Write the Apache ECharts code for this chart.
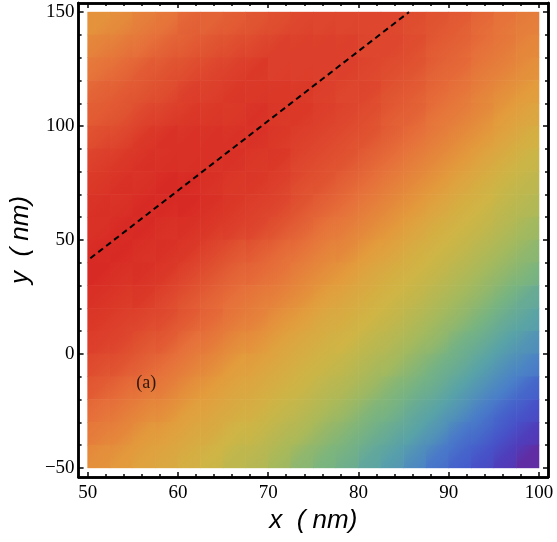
<!DOCTYPE html>
<html>
<head>
<meta charset="utf-8">
<script src="https://cdn.jsdelivr.net/npm/echarts@6/dist/echarts.min.js"></script>
<style>
html,body{margin:0;padding:0;background:#fff;}
#main{width:557px;height:542px;}
</style>
</head>
<body>
<div id="main"></div>
<script>
// cell centres (nm)
const xCells = [51.25,53.75,56.25,58.75,61.25,63.75,66.25,68.75,71.25,73.75,76.25,78.75,81.25,83.75,86.25,88.75,91.25,93.75,96.25,98.75];
const yCells = [145,135,125,115,105,95,85,75,65,55,45,35,25,15,5,-5,-15,-25,-35,-45];
// value, one row per yCells entry (0 = purple, 100 = deep red)
const zRows = [
  [82,84,87,89,92,92,93,94,95,96,96,96,96,96,95,94,93,91,89,87],
  [86,88,90,92,93,94,95,96,97,97,97,97,96,96,95,93,92,90,88,85],
  [89,91,93,94,95,96,97,98,97,97,97,97,96,95,94,92,91,88,86,83],
  [92,93,94,95,97,97,98,98,98,98,97,96,96,94,93,91,89,86,83,80],
  [93,94,96,97,98,98,98,99,98,98,97,96,95,93,92,89,87,84,80,77],
  [95,96,98,99,99,99,99,99,98,97,96,95,94,92,90,87,84,81,77,73],
  [97,98,99,99,99,99,99,98,98,96,95,94,92,90,87,84,81,77,73,69],
  [98,99,99,100,100,99,98,98,97,95,94,92,90,87,84,81,77,73,69,66],
  [99,99,100,100,100,99,98,97,96,94,92,90,87,84,81,77,73,70,66,63],
  [99,100,100,99,99,98,97,96,94,92,89,87,84,81,77,73,70,67,63,59],
  [100,100,99,99,98,96,94,93,91,89,86,84,80,77,73,70,67,63,59,55],
  [100,99,99,98,96,94,92,91,89,86,83,80,76,73,70,67,63,59,55,51],
  [99,98,98,96,94,92,90,88,86,83,79,76,73,70,67,63,59,55,50,45],
  [98,97,96,95,93,91,88,86,82,79,75,73,70,67,63,59,55,50,45,41],
  [97,96,94,93,90,88,84,82,78,75,72,70,66,63,59,55,49,45,40,36],
  [95,94,92,90,87,84,80,78,75,72,69,66,62,59,54,49,45,40,35,31],
  [93,91,89,87,83,80,77,75,72,69,65,62,58,53,49,45,40,35,30,24],
  [90,88,85,83,79,77,74,72,68,65,61,57,52,49,44,40,35,29,23,18],
  [87,85,81,79,76,74,70,68,64,61,56,52,48,44,40,35,28,24,18,12],
  [83,81,78,76,73,70,66,64,60,55,51,48,43,39,34,28,23,18,12,5]
];
const xMajor = [50,60,70,80,90,100];
const xMinor = [52,54,56,58,62,64,66,68,72,74,76,78,82,84,86,88,92,94,96,98];
const yMajor = [-50,0,50,100,150];
const yMinor = [-40,-30,-20,-10,10,20,30,40,60,70,80,90,110,120,130,140];
const ridgeLine = [[50.3,42],[85.6,150]];
const panelLabel = [[56.5,-13,'(a)']];
const rainbow = ['#6e2290','#5238b8','#4458cc','#4a80c8','#58a2a8','#78b480','#a8b95a','#cfb545','#e39c3c','#e6703a','#d82a24'];

const nR = yCells.length, nC = xCells.length;
const cells = [];
zRows.forEach((row, i) => {
  row.forEach((v, j) => cells.push([xCells[j], yCells[i], v]));
});
const hx = (xCells[1] - xCells[0]) / 2;
const hy = (yCells[0] - yCells[1]) / 2;

// colour ramp, same stops as the visualMap
const stops = rainbow.map(h => [1, 3, 5].map(k => parseInt(h.substr(k, 2), 16)));
function colorAt(v) {
  const t = Math.max(0, Math.min(1, v / 100)) * (stops.length - 1);
  const k = Math.min(stops.length - 2, Math.floor(t)), f = t - k;
  const c = stops[k].map((a, n) => Math.round(a + (stops[k + 1][n] - a) * f));
  return 'rgb(' + c.join(',') + ')';
}
// mean of the cells that meet at a corner (top-left corner of cell i,j)
function cornerVal(i, j) {
  let s = 0, n = 0;
  [[i - 1, j - 1], [i - 1, j], [i, j - 1], [i, j]].forEach(([a, b]) => {
    if (a >= 0 && a < nR && b >= 0 && b < nC) { s += zRows[a][b]; n++; }
  });
  return s / n;
}

const chart = echarts.init(document.getElementById('main'));
const serif = 'Liberation Serif';
const fmt = v => String(v).replace('-', '\u2212');

function xAxisOf(pos, ticks, len, labels) {
  return {
    type: 'value', position: pos, min: 49, max: 101,
    splitLine: {show: false},
    axisLine: {show: true, onZero: false, lineStyle: {color: '#000', width: 2.5}},
    axisTick: {show: true, inside: true, length: len, customValues: ticks, lineStyle: {color: '#000', width: 1.5}},
    axisLabel: labels ? {show: true, customValues: ticks, margin: 7, color: '#000', fontFamily: serif, fontSize: 19} : {show: false}
  };
}
function yAxisOf(pos, ticks, len, labels) {
  return {
    type: 'value', position: pos, min: -54, max: 154,
    splitLine: {show: false},
    axisLine: {show: true, onZero: false, lineStyle: {color: '#000', width: 2.5}},
    axisTick: {show: true, inside: true, length: len, customValues: ticks, lineStyle: {color: '#000', width: 1.5}},
    axisLabel: labels ? {show: true, customValues: ticks, margin: 4, color: '#000', fontFamily: serif, fontSize: 19, formatter: fmt} : {show: false}
  };
}

const xs = [xAxisOf('bottom', xMajor, 5, true), xAxisOf('bottom', xMinor, 3, false), xAxisOf('top', xMajor, 5, false), xAxisOf('top', xMinor, 3, false)];
const ys = [yAxisOf('left', yMajor, 5, true), yAxisOf('left', yMinor, 3, false), yAxisOf('right', yMajor, 5, false), yAxisOf('right', yMinor, 3, false)];
Object.assign(xs[0], {name: 'x  ( nm)', nameLocation: 'middle', nameGap: 31,
  nameTextStyle: {fontFamily: 'Liberation Sans', fontStyle: 'italic', fontSize: 26, color: '#000'}});
Object.assign(ys[0], {name: 'y  ( nm)', nameLocation: 'middle', nameGap: 38,
  nameTextStyle: {fontFamily: 'Liberation Sans', fontStyle: 'italic', fontSize: 26, color: '#000'}});

var option = {
  animation: false,
  grid: {left: 75, right: 9, top: 3, bottom: 65},
  xAxis: xs,
  yAxis: ys,
  visualMap: {show: false, type: 'continuous', min: 0, max: 100, dimension: 2, seriesIndex: 0, inRange: {color: rainbow}},
  series: [
    {
      type: 'custom',
      data: cells,
      renderItem(params, api) {
        const i = Math.floor(params.dataIndex / nC), j = params.dataIndex % nC;
        const p0 = api.coord([api.value(0) - hx, api.value(1) + hy]);
        const p1 = api.coord([api.value(0) + hx, api.value(1) - hy]);
        // shade across the cell from its top-left to its bottom-right corner
        const fill = new echarts.graphic.LinearGradient(0, 0, 1, 1, [
          {offset: 0, color: colorAt(cornerVal(i, j))},
          {offset: 0.5, color: colorAt(api.value(2))},
          {offset: 1, color: colorAt(cornerVal(i + 1, j + 1))}
        ]);
        return {
          type: 'rect',
          shape: {x: p0[0] - 0.3, y: p0[1] - 0.3, width: p1[0] - p0[0] + 0.6, height: p1[1] - p0[1] + 0.6},
          style: {fill: fill}
        };
      }
    },
    {
      type: 'line',
      data: ridgeLine,
      symbol: 'none',
      lineStyle: {color: '#000', width: 2, type: [6, 4]}
    },
    {
      type: 'scatter',
      data: panelLabel,
      symbolSize: 0,
      label: {show: true, formatter: p => p.data[2], color: '#000', fontFamily: serif, fontSize: 18}
    }
  ]
};
chart.setOption(option);
</script>
</body>
</html>
